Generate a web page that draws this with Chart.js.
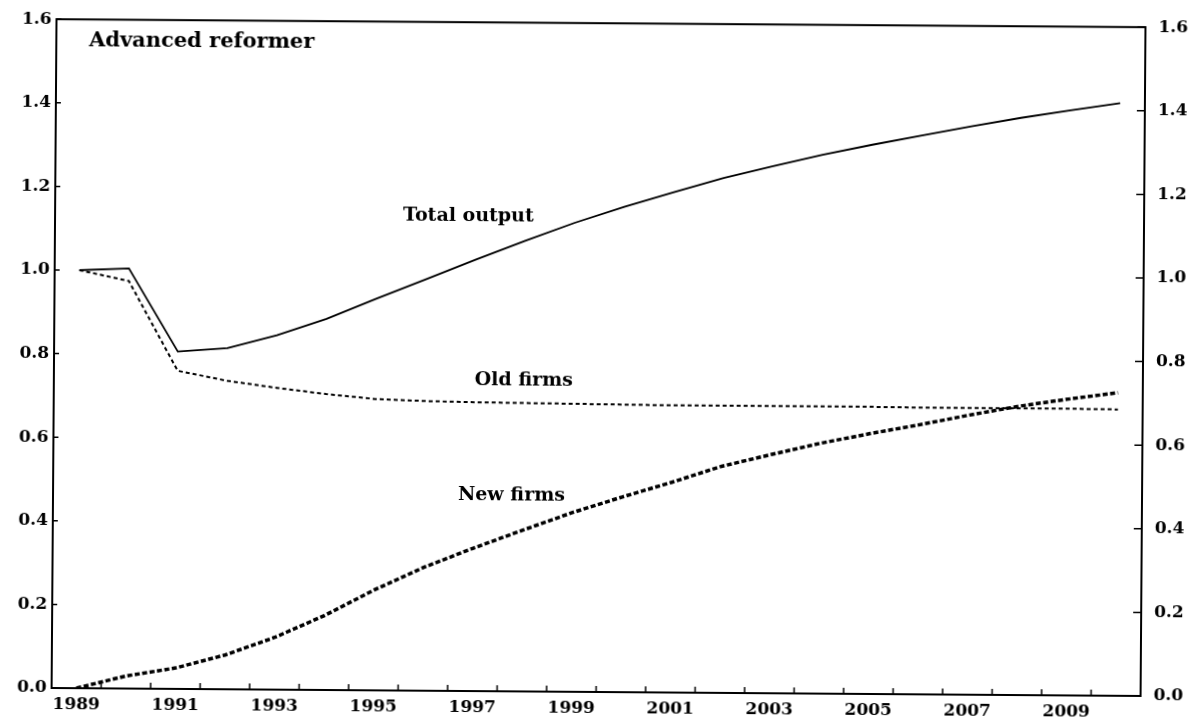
<!DOCTYPE html>
<html>
<head>
<meta charset="utf-8">
<script src="https://cdn.jsdelivr.net/npm/chart.js@4.4.1/dist/chart.umd.min.js"></script>
<style>
  html, body { margin: 0; padding: 0; background: #fff; overflow: hidden; }
  #wrap { width: 1199px; height: 725px; transform: rotate(0.42deg); transform-origin: 50% 50%; }
  canvas { display: block; }
</style>
</head>
<body>
<div id="wrap"><canvas id="c" width="1199" height="725"></canvas></div>
<script>
// ---- data ----
const years = ['1989','1990','1991','1992','1993','1994','1995','1996','1997','1998','1999',
               '2000','2001','2002','2003','2004','2005','2006','2007','2008','2009','2010'];
const totalOutput = [1.000, 1.005, 0.807, 0.816, 0.848, 0.888, 0.937, 0.984, 1.032, 1.078, 1.122,
                     1.161, 1.197, 1.232, 1.261, 1.289, 1.314, 1.337, 1.360, 1.381, 1.400, 1.418];
const oldFirms    = [1.000, 0.975, 0.761, 0.738, 0.722, 0.708, 0.697, 0.693, 0.691, 0.690, 0.689,
                     0.688, 0.687, 0.687, 0.687, 0.687, 0.687, 0.686, 0.686, 0.686, 0.686, 0.685];
const newFirms    = [0.000, 0.030, 0.050, 0.082, 0.125, 0.178, 0.240, 0.295, 0.342, 0.386, 0.429,
                     0.467, 0.503, 0.542, 0.571, 0.599, 0.623, 0.645, 0.669, 0.691, 0.709, 0.725];
const yTicks = [0, 0.2, 0.4, 0.6, 0.8, 1.0, 1.2, 1.4, 1.6];
const panelTitle = 'Advanced reformer';
const seriesNames = ['Total output', 'Old firms', 'New firms'];

// ---- text placements (in axis coordinates: category index, value) ----
const notes = [
  { text: panelTitle,     i: 0.16, v: 1.536, size: 21 },
  { text: seriesNames[0], i: 6.53, v: 1.125, size: 19 },
  { text: seriesNames[1], i: 8.00, v: 0.733, size: 19 },
  { text: seriesNames[2], i: 7.68, v: 0.456, size: 19 }
];

const tickFont = { family: 'DejaVu Serif', weight: 'bold', size: 17 };

const framePlugin = {
  id: 'frame',
  afterDraw(chart) {
    const { ctx, chartArea: a, scales } = chart;
    ctx.save();
    ctx.strokeStyle = '#000';
    ctx.lineWidth = 2;
    ctx.strokeRect(a.left, a.top, a.right - a.left, a.bottom - a.top);
    ctx.lineWidth = 1.5;
    ctx.beginPath();
    const xs = scales.x;
    for (let i = 0; i <= years.length; i++) {
      const px = xs.getPixelForValue(i - 0.5);
      if (px <= a.left + 2 || px >= a.right - 2) continue;
      ctx.moveTo(px, a.bottom);
      ctx.lineTo(px, a.bottom - 6);
    }
    yTicks.forEach(v => {
      const pl = scales.y.getPixelForValue(v);
      ctx.moveTo(a.left, pl); ctx.lineTo(a.left + 5, pl);
      const pr = scales.y2.getPixelForValue(v);
      ctx.moveTo(a.right, pr); ctx.lineTo(a.right - 8, pr);
    });
    ctx.stroke();
    ctx.fillStyle = '#000';
    ctx.textAlign = 'left';
    ctx.textBaseline = 'alphabetic';
    notes.forEach(n => {
      ctx.font = 'bold ' + n.size + 'px "DejaVu Serif"';
      ctx.fillText(n.text, xs.getPixelForValue(n.i), scales.y.getPixelForValue(n.v));
    });
    ctx.restore();
  }
};

new Chart(document.getElementById('c'), {
  type: 'line',
  data: {
    labels: years,
    datasets: [
      { label: seriesNames[2], data: newFirms, borderColor: '#000', borderWidth: 3.5,
        borderDash: [5, 2.5], pointRadius: 0, tension: 0, fill: false, yAxisID: 'y' },
      { label: seriesNames[1], data: oldFirms, borderColor: '#000', borderWidth: 2,
        borderDash: [4, 3], pointRadius: 0, tension: 0, fill: false, yAxisID: 'y' },
      { label: seriesNames[0], data: totalOutput, borderColor: '#000', borderWidth: 1.8,
        pointRadius: 0, tension: 0, fill: false, yAxisID: 'y' }
    ]
  },
  options: {
    responsive: false,
    animation: false,
    layout: { padding: { top: 20, left: 0, right: 0, bottom: 0 } },
    plugins: { legend: { display: false }, tooltip: { enabled: false } },
    scales: {
      x: {
        type: 'category',
        offset: true,
        grid: { display: false, drawTicks: false },
        border: { display: false },
        ticks: {
          color: '#000', font: tickFont, padding: 6, autoSkip: false, maxRotation: 0,
          callback: (v, i) => (parseInt(years[i], 10) % 2 === 1 ? years[i] : '')
        },
        afterFit: s => { s.height = 33; }
      },
      y: {
        position: 'left', min: 0, max: 1.6,
        afterBuildTicks: s => { s.ticks = yTicks.map(v => ({ value: v })); },
        grid: { display: false, drawTicks: false },
        border: { display: false },
        ticks: { color: '#000', font: tickFont, padding: 5, callback: v => Number(v).toFixed(1) },
        afterFit: s => { s.width = 54; }
      },
      y2: {
        position: 'right', min: 0, max: 1.6,
        afterBuildTicks: s => { s.ticks = yTicks.map(v => ({ value: v })); },
        grid: { display: false, drawTicks: false },
        border: { display: false },
        ticks: { color: '#000', font: tickFont, padding: 13, callback: v => Number(v).toFixed(1) },
        afterFit: s => { s.width = 56; }
      }
    }
  },
  plugins: [framePlugin]
});
</script>
</body>
</html>
